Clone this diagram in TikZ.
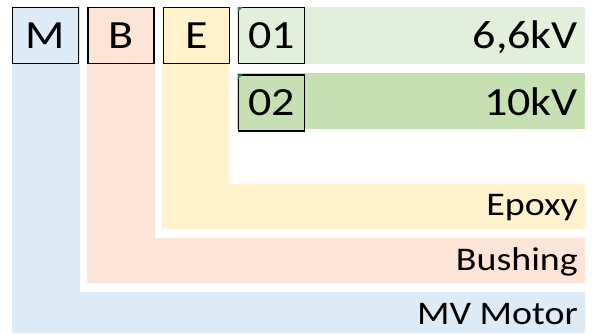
\documentclass[tikz,border=0pt]{standalone}
\usepackage{fontspec}
\usepackage{graphicx}
\setmainfont{Carlito}
\usetikzlibrary{positioning}
\definecolor{motorblue}{HTML}{DDEBF7}
\definecolor{bushpink}{HTML}{FCE4D6}
\definecolor{epoxyyellow}{HTML}{FFF2CC}
\definecolor{lowgreen}{HTML}{E2EFDA}
\definecolor{highgreen}{HTML}{C6E0B4}
\definecolor{tickgreen}{HTML}{2E8B3A}
\newcommand{\widetext}[1]{\scalebox{1.15}[1]{#1}}
\tikzstyle{Code} = [draw, line width=1.3pt, rectangle, minimum width=66pt, minimum height=56pt,
                    inner sep=0pt, font=\fontsize{40}{42}\selectfont]
\tikzstyle{Label} = [anchor=east, inner sep=0pt, font=\fontsize{33}{35}\selectfont]
\tikzstyle{Value} = [anchor=east, inner sep=0pt, font=\fontsize{40}{42}\selectfont]

\begin{document}
\begin{tikzpicture}
    [x=1pt, y=-1pt, node distance = 8pt]
    \useasboundingbox (0,0) rectangle (592,333);

    %% Bands
    \fill[motorblue] (12,7) -- (80,7) -- (80,292) -- (585,292) -- (585,333) -- (12,333) -- cycle;
    \fill[bushpink] (87,7) -- (155,7) -- (155,238) -- (585,238) -- (585,283) -- (87,283) -- cycle;
    \fill[epoxyyellow] (162,7) -- (229,7) -- (229,184) -- (585,184) -- (585,229) -- (162,229) -- cycle;
    \fill[lowgreen] (237,7) rectangle (585,64);
    \fill[highgreen] (237,73) rectangle (585,129);

    %% Code boxes
    \node [Code, fill=motorblue, anchor=north west] (m) at (12,7) {\widetext{M}};
    \node [Code, fill=bushpink, right= of m] (b) {\widetext{B}};
    \node [Code, fill=epoxyyellow, right= of b] (e) {\widetext{E}};
    \node [Code, fill=lowgreen, right= of e] (c01) {\widetext{01}};
    \node [Code, fill=highgreen, below= 10pt of c01] (c02) {\widetext{02}};

    %% Green marks
    \fill[tickgreen] (c01.north west) -- ++(5,0) -- ++(-5,5) -- cycle;
    \fill[tickgreen] (c02.north west) -- ++(5,0) -- ++(-5,5) -- cycle;

    %% Texts
    \node [Value] (v01) at (578,37) {\widetext{6,6kV}};
    \node [Value] (v02) at (578,102) {\widetext{10kV}};
    \node [Label] (epoxy) at (578,208) {\widetext{Epoxy}};
    \node [Label] (bushing) at (578,262) {\widetext{Bushing}};
    \node [Label] (motor) at (578,314) {\widetext{MV Motor}};

\end{tikzpicture}
\end{document}
